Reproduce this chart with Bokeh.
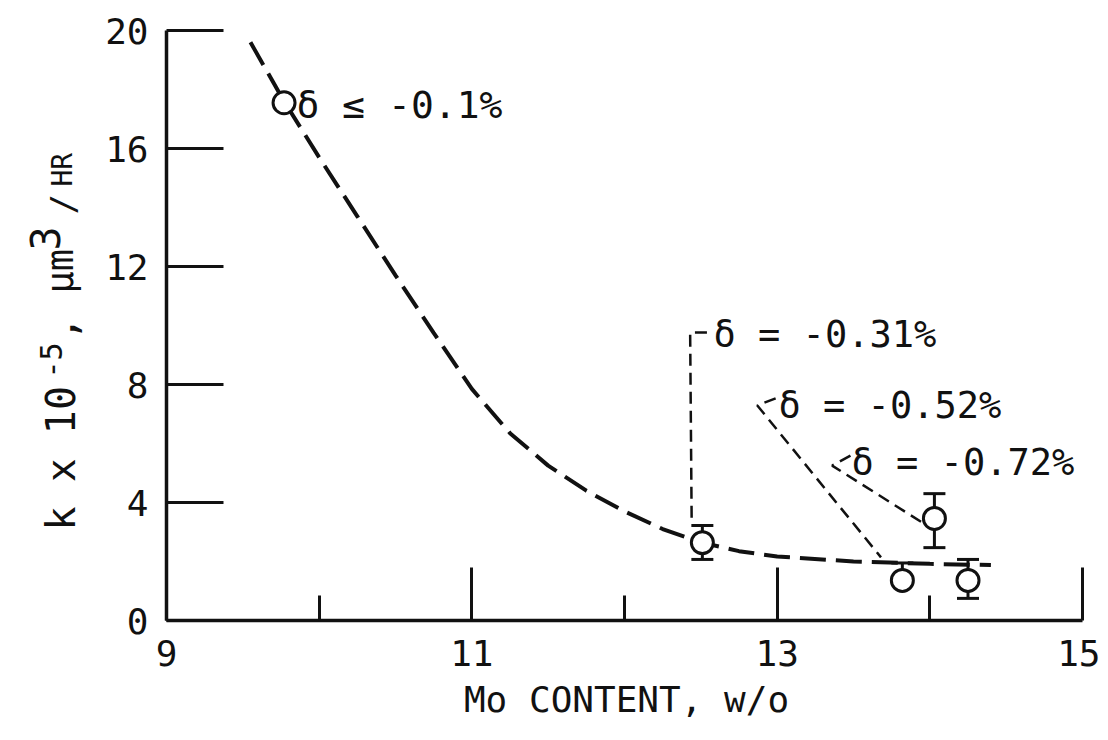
import math
from bokeh.plotting import figure
from bokeh.models import (ColumnDataSource, FixedTicker, Whisker, TeeHead, Label)
from bokeh.embed import file_html
from bokeh.resources import INLINE

# ---- data ----
curve_mo = [9.55, 9.77, 10.0, 10.25, 10.5, 10.75, 11.0, 11.25, 11.5, 11.75,
            12.0, 12.25, 12.5, 12.75, 13.0, 13.5, 14.0, 14.4]
curve_k = [19.6, 17.6, 15.7, 13.7, 11.7, 9.75, 7.85, 6.35, 5.25, 4.4,
           3.7, 3.1, 2.65, 2.35, 2.17, 2.0, 1.92, 1.88]

pt_mo = [9.77, 12.51, 13.82, 14.03, 14.25]
pt_k = [17.55, 2.64, 1.36, 3.46, 1.36]

err_mo = [12.51, 13.82, 14.03, 14.25]
err_hi = [3.22, 1.95, 4.30, 2.07]
err_lo = [2.07, 1.36, 2.47, 0.75]

lead_031_x = [12.54, 12.43, 12.44]
lead_031_y = [9.76, 9.76, 3.30]
lead_052_x = [12.99, 12.87, 13.68]
lead_052_y = [7.53, 7.29, 2.14]
lead_072_x = [13.48, 13.36, 13.96]
lead_072_y = [5.59, 5.25, 3.29]

x_ticks = [9, 11, 13, 15]
x_minor = [10, 12, 14]
y_ticks = [0, 4, 8, 12, 16, 20]

delta_text = ["δ ≤ -0.1%", "δ = -0.31%", "δ = -0.52%", "δ = -0.72%"]
x_title = "Mo CONTENT, w/o"

FONT = "DejaVu Sans Mono"
INK = "#111111"

# ---- layout: canvas pixels of the axis corners ----
W, H = 1100, 724
X9_PX, X15_PX = 166, 1082
Y0_PX, Y20_PX = 620, 30
SX = (X15_PX - X9_PX) / 6.0
SY = (Y0_PX - Y20_PX) / 20.0

def px2x(px):
    return 9 + (px - X9_PX) / SX

def py2y(py):
    return (Y0_PX - py) / SY

p = figure(width=W, height=H,
           x_range=(px2x(0), px2x(W)), y_range=(py2y(H), py2y(0)),
           output_backend="svg", toolbar_location=None,
           min_border=0, min_border_left=0, min_border_right=0,
           min_border_top=0, min_border_bottom=0)
p.grid.visible = False
p.outline_line_color = None
p.background_fill_color = "white"
p.border_fill_color = "white"

# axes drawn at fixed locations, limited to the data box
xa = p.xaxis[0]
xa.fixed_location = 0
xa.bounds = (9, 15)
xa.ticker = FixedTicker(ticks=x_ticks, minor_ticks=x_minor)
xa.major_tick_in = 53
xa.major_tick_out = 0
xa.minor_tick_in = 25
xa.minor_tick_out = 0
xa.axis_line_width = 3.5
xa.major_tick_line_width = 3
xa.minor_tick_line_width = 3
xa.axis_line_color = INK
xa.major_tick_line_color = INK
xa.minor_tick_line_color = INK
xa.major_label_text_font = FONT
xa.major_label_text_font_size = "36px"
xa.major_label_text_color = INK
xa.major_label_standoff = 19

ya = p.yaxis[0]
ya.fixed_location = 9
ya.bounds = (0, 20)
ya.ticker = FixedTicker(ticks=y_ticks, minor_ticks=[])
ya.major_tick_in = 57
ya.major_tick_out = 0
ya.minor_tick_in = 0
ya.minor_tick_out = 0
ya.axis_line_width = 3.5
ya.major_tick_line_width = 3
ya.axis_line_color = INK
ya.major_tick_line_color = INK
ya.major_label_text_font = FONT
ya.major_label_text_font_size = "36px"
ya.major_label_text_color = INK
ya.major_label_standoff = 18

# main dashed curve
p.line(curve_mo, curve_k, line_color=INK, line_width=4, line_dash="26 10")

# leader lines
for lx, ly in [(lead_031_x, lead_031_y), (lead_052_x, lead_052_y), (lead_072_x, lead_072_y)]:
    p.line(lx, ly, line_color=INK, line_width=2.5, line_dash="12 7")

# error bars
esrc = ColumnDataSource(dict(x=err_mo, upper=err_hi, lower=err_lo))
p.add_layout(Whisker(source=esrc, base="x", upper="upper", lower="lower",
                     dimension="height", line_color=INK, line_width=3,
                     upper_head=TeeHead(size=22, line_width=3, line_color=INK),
                     lower_head=TeeHead(size=22, line_width=3, line_color=INK),
                     level="underlay"))

# data points
p.scatter(pt_mo, pt_k, marker="circle", size=22, line_width=3,
          line_color=INK, fill_color="white")

# delta annotations (page px of left edge / middle)
lab_px = [(296, 104, "38px"), (713, 334, "37px"), (778, 405, "37px"), (851, 462, "37px")]
for t, (lx, ly, fs) in zip(delta_text, lab_px):
    p.add_layout(Label(x=px2x(lx), y=py2y(ly), text=t, text_font=FONT,
                       text_font_size=fs, text_color=INK,
                       text_baseline="middle", text_align="left"))

# x axis title
p.add_layout(Label(x=px2x(626), y=py2y(699), text=x_title, text_font=FONT,
                   text_font_size="36px", text_color=INK,
                   text_baseline="middle", text_align="center"))

# rotated y-axis title built from pieces (baseline x px, start y px)
ylab_parts = [("k x 10", 60, 530, "40px"), ("-5", 50, 378, "30px"),
              (",", 60, 340, "40px"), ("µm", 60, 293, "37px"),
              ("3", 44, 250, "40px"), ("/", 62, 214, "34px"),
              ("HR", 62, 186, "28px")]
for t, bx, by, fs in ylab_parts:
    p.add_layout(Label(x=px2x(bx), y=py2y(by), text=t, angle=math.pi / 2,
                       text_font=FONT, text_font_size=fs, text_color=INK,
                       text_align="left", text_baseline="alphabetic"))

open("out.html", "w").write(file_html(p, INLINE))
